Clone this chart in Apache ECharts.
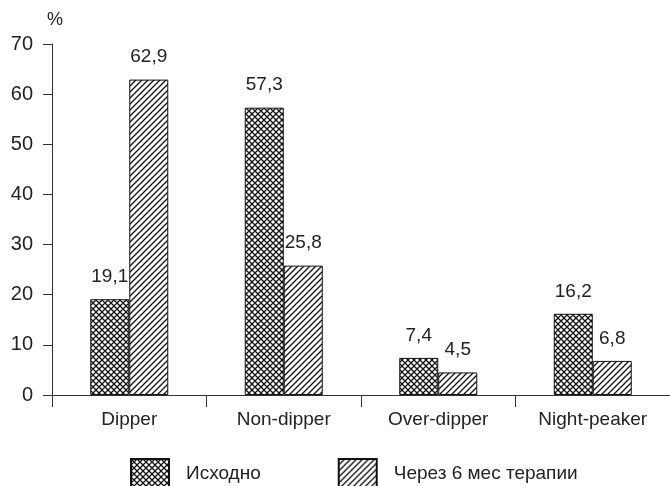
<!DOCTYPE html>
<html>
<head>
<meta charset="utf-8">
<script src="https://cdn.jsdelivr.net/npm/echarts@6/dist/echarts.min.js"></script>
<style>
  html, body { margin: 0; padding: 0; background: #fff; }
  #main { width: 670px; height: 486px; }
</style>
</head>
<body>
<div id="main"></div>
<script>
var categories = ['Dipper', 'Non-dipper', 'Over-dipper', 'Night-peaker'];
var seriesNames = ['Исходно', 'Через 6 мес терапии'];
var baseline = [19.1, 57.3, 7.4, 16.2];
var after6m = [62.9, 25.8, 4.5, 6.8];

// штриховки
function makeTile(cross) {
    var c = document.createElement('canvas');
    c.width = 6; c.height = 6;
    var ctx = c.getContext('2d');
    ctx.fillStyle = '#fff';
    ctx.fillRect(0, 0, 6, 6);
    ctx.strokeStyle = '#111';
    ctx.lineWidth = 1.3;
    ctx.beginPath();
    // "/"
    ctx.moveTo(-1, 7); ctx.lineTo(7, -1);
    ctx.moveTo(-4, 4); ctx.lineTo(4, -4);
    ctx.moveTo(2, 10); ctx.lineTo(10, 2);
    if (cross) {
        // "\"
        ctx.moveTo(-1, -1); ctx.lineTo(7, 7);
        ctx.moveTo(-4, 2); ctx.lineTo(4, 10);
        ctx.moveTo(2, -4); ctx.lineTo(10, 4);
    }
    ctx.stroke();
    return c;
}

var crossFill = { image: makeTile(true), repeat: 'repeat' };
var hatchFill = { image: makeTile(false), repeat: 'repeat' };

function fmt(p) {
    return String(p.value).replace('.', ',');
}

var chart = echarts.init(document.getElementById('main'));

var labelStyle = { show: true, position: 'top', distance: 13, fontSize: 19, color: '#222', formatter: fmt };

var option = {
    animation: false,
    textStyle: { fontFamily: 'Liberation Sans, Arial, sans-serif' },
    grid: { left: 52, top: 44, width: 622, bottom: 91, containLabel: false },
    legend: {
        left: 125,
        top: 453,
        itemWidth: 38,
        itemHeight: 30,
        itemGap: 77,
        icon: 'rect',
        textStyle: { fontSize: 19, color: '#222', padding: [0, 0, 0, 12] },
        data: seriesNames
    },
    xAxis: {
        type: 'category',
        data: categories,
        axisLine: { lineStyle: { color: '#333', width: 1 } },
        axisTick: { show: true, length: 12, inside: false, lineStyle: { color: '#333' } },
        axisLabel: { fontSize: 19, color: '#222', margin: 15 }
    },
    yAxis: {
        type: 'value',
        min: 0,
        max: 70,
        interval: 10,
        name: '%',
        nameLocation: 'end',
        nameGap: 15,
        nameTextStyle: { fontSize: 18, color: '#222', padding: [0, 0, 0, 6] },
        splitLine: { show: false },
        axisLine: { show: true, lineStyle: { color: '#333', width: 1 } },
        axisTick: { show: true, length: 9, lineStyle: { color: '#333' } },
        axisLabel: { fontSize: 20, color: '#222', margin: 19 }
    },
    series: [
        {
            name: seriesNames[0],
            type: 'bar',
            data: baseline,
            barWidth: 39,
            barGap: '0%',
            itemStyle: { color: crossFill, borderColor: '#111', borderWidth: 1 },
            label: labelStyle
        },
        {
            name: seriesNames[1],
            type: 'bar',
            data: after6m,
            barWidth: 39,
            itemStyle: { color: hatchFill, borderColor: '#111', borderWidth: 1 },
            label: labelStyle
        }
    ]
};

chart.setOption(option);
</script>
</body>
</html>
